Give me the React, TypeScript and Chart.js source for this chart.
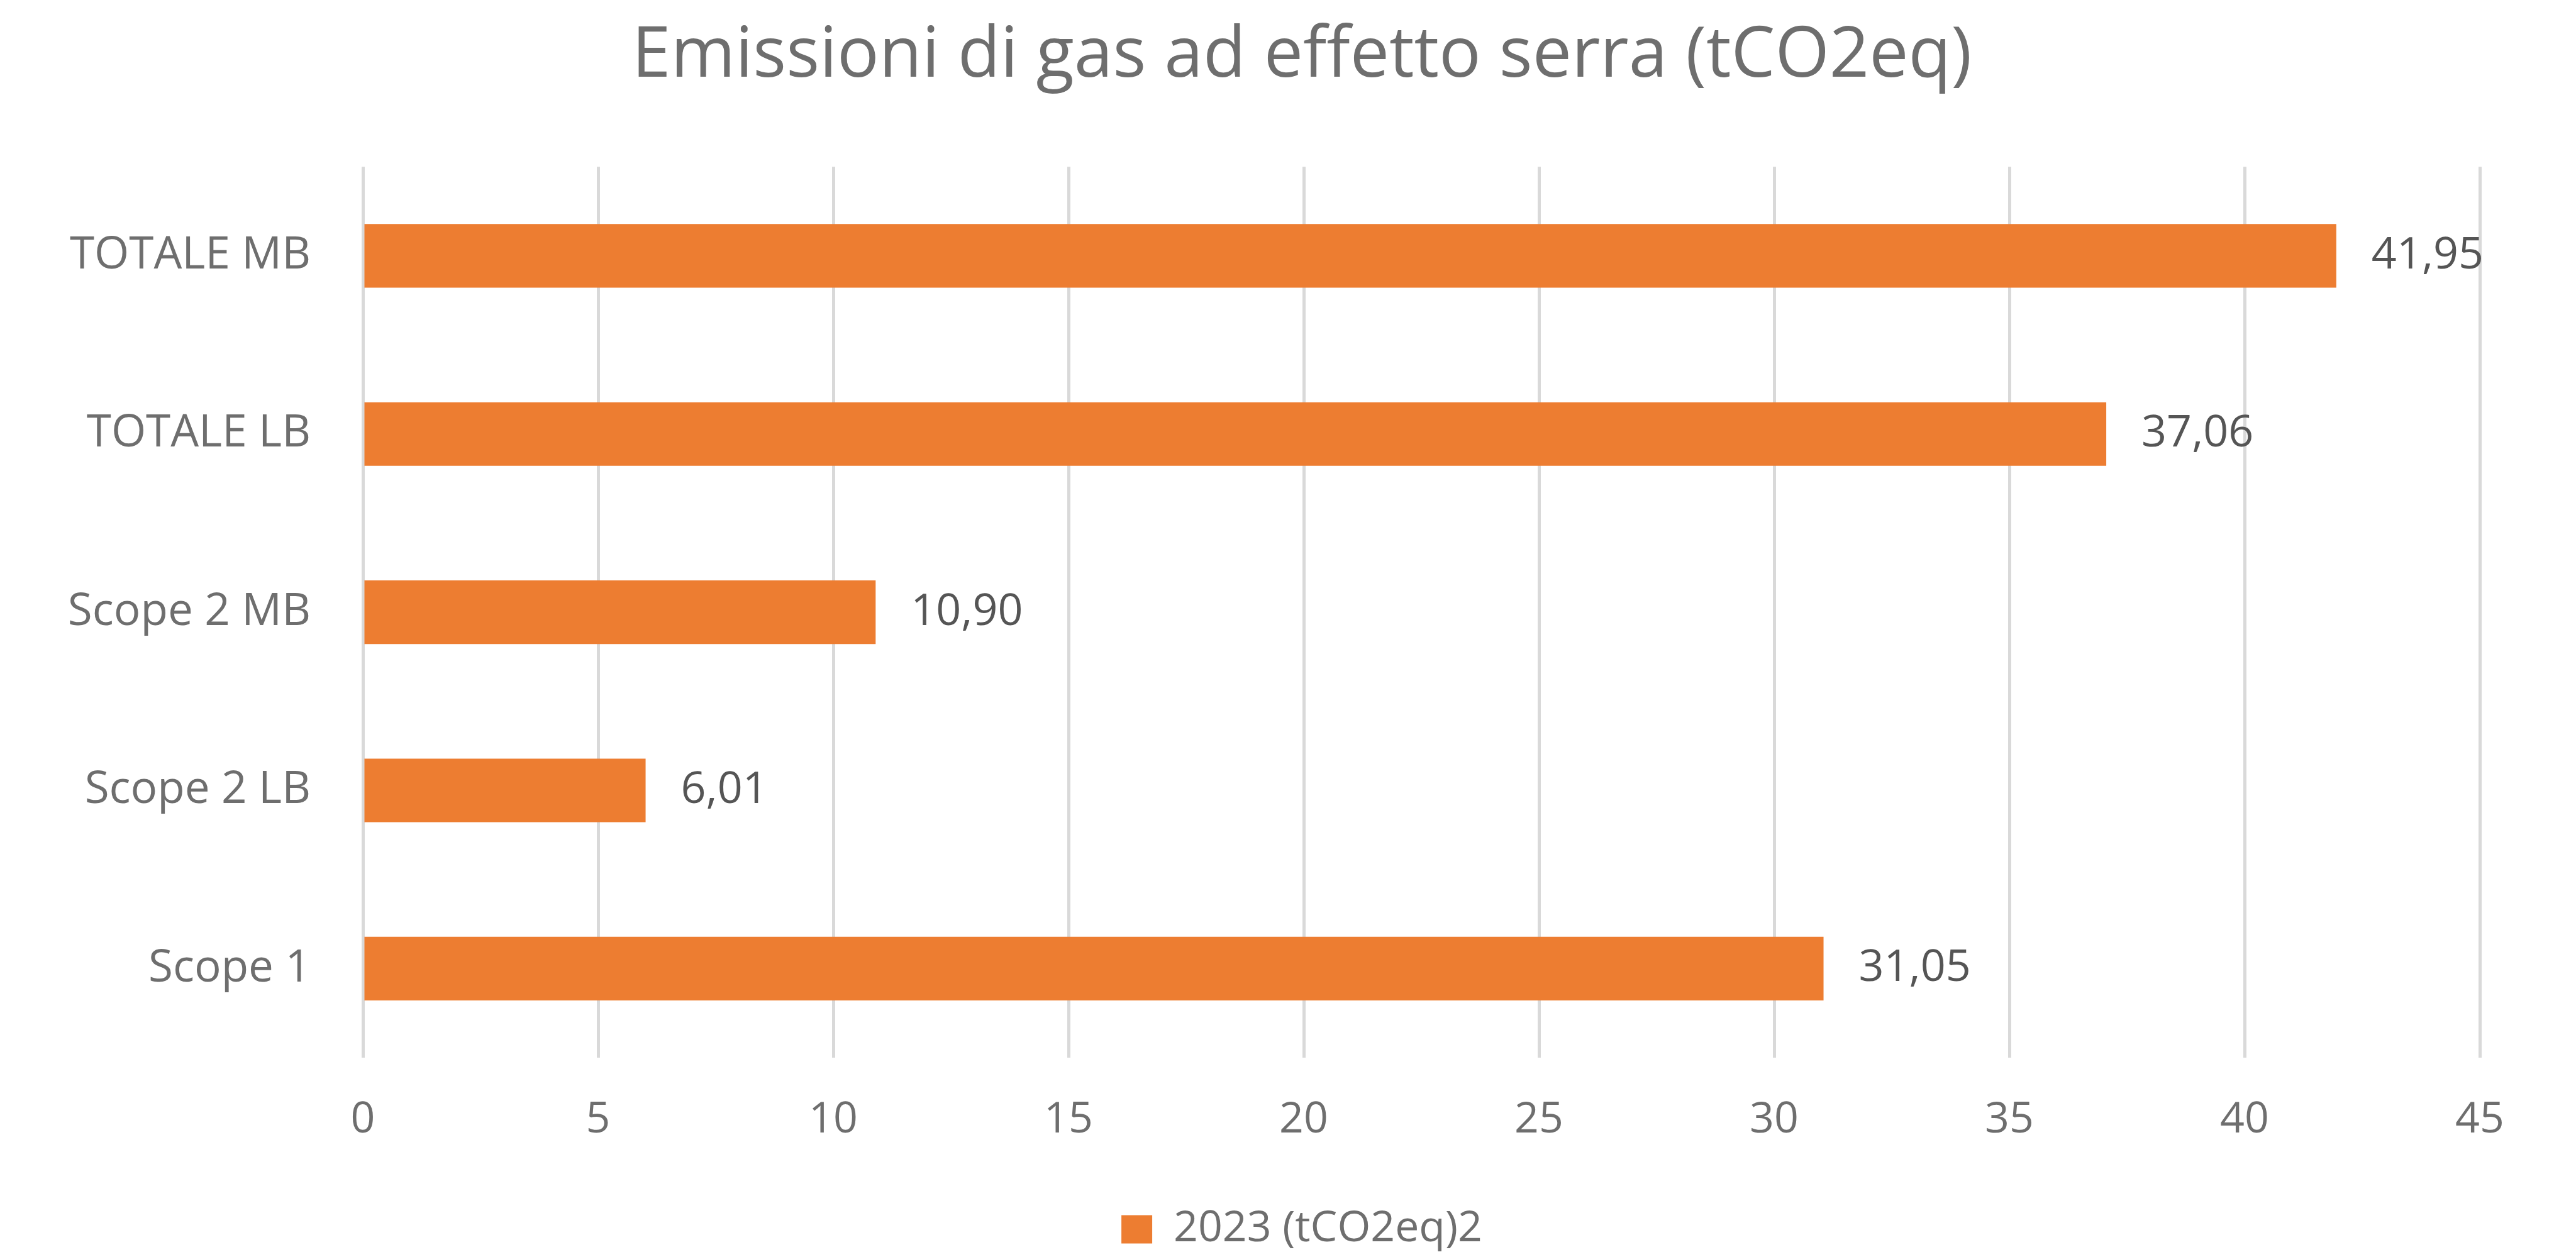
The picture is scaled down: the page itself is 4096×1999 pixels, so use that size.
import React, { useEffect, useRef } from "react";
import { Chart, registerables } from "chart.js";

Chart.register(...registerables);

const titleText = "Emissioni di gas ad effetto serra (tCO2eq)";
const categories = ["TOTALE MB", "TOTALE LB", "Scope 2 MB", "Scope 2 LB", "Scope 1"];
const values2023 = [41.95, 37.06, 10.9, 6.01, 31.05];
const seriesLabel = "2023 (tCO2eq)2";
const xMin = 0;
const xMax = 45;
const xStep = 5;

const FONT = "'Open Sans', Lato, sans-serif";
const W = 4096;
const H = 1999;
const TEXT_GREY = "#6e6e6e";

const valueLabels = {
  id: "valueLabels",
  afterDatasetsDraw(chart: any) {
    const ctx = chart.ctx;
    const meta = chart.getDatasetMeta(0);
    const data = chart.data.datasets[0].data as number[];
    ctx.save();
    ctx.font = `70px ${FONT}`;
    ctx.fillStyle = "#555555";
    ctx.textAlign = "left";
    ctx.textBaseline = "middle";
    meta.data.forEach((bar: any, i: number) => {
      const txt = data[i].toFixed(2).replace(".", ",");
      ctx.fillText(txt, bar.x + 56, bar.y);
    });
    ctx.restore();
  },
};

export default function App() {
  const ref = useRef<HTMLCanvasElement | null>(null);

  useEffect(() => {
    let chart: Chart | null = null;
    let cancelled = false;
    const make = () => {
      if (cancelled || !ref.current) return;
      chart = new Chart(ref.current, {
        type: "bar",
        data: {
          labels: categories,
          datasets: [
            {
              label: seriesLabel,
              data: values2023,
              backgroundColor: "#ED7D31",
              borderWidth: 0,
              barPercentage: 0.357,
              categoryPercentage: 1,
            },
          ],
        },
        options: {
          indexAxis: "y",
          animation: false,
          responsive: false,
          devicePixelRatio: 1,
          layout: { padding: { left: 44, right: 0, top: 0, bottom: 0 } },
          plugins: {
            title: {
              display: true,
              text: titleText,
              color: TEXT_GREY,
              font: { family: FONT, size: 111, weight: "normal", lineHeight: 1.2 },
              padding: { top: 24, bottom: 108 },
            },
            legend: {
              position: "bottom",
              labels: {
                boxWidth: 49,
                boxHeight: 45,
                color: TEXT_GREY,
                font: { family: FONT, size: 68 },
                padding: 10,
              },
            },
            tooltip: { enabled: false },
          },
          scales: {
            x: {
              type: "linear",
              min: xMin,
              max: xMax,
              ticks: {
                stepSize: xStep,
                color: TEXT_GREY,
                font: { family: FONT, size: 68 },
                padding: 59,
              },
              grid: { color: "#d9d9d9", lineWidth: 5, drawTicks: false },
              border: { display: false },
              afterFit(s: any) {
                s.height = 229;
              },
            },
            y: {
              type: "category",
              ticks: {
                color: TEXT_GREY,
                font: { family: FONT, size: 71 },
                padding: 83,
              },
              grid: { display: false, drawTicks: false },
              border: { display: false },
              afterFit(s: any) {
                s.width = 533;
              },
            },
            y2: {
              type: "linear",
              position: "right",
              display: true,
              ticks: { display: false },
              grid: { display: false, drawTicks: false },
              border: { display: false },
              afterFit(s: any) {
                s.width = 153;
              },
            },
          },
        },
        plugins: [valueLabels],
      });
    };
    const fontsApi = (document as any).fonts;
    if (fontsApi && fontsApi.load) {
      Promise.all([
        fontsApi.load(`68px 'Open Sans'`),
        fontsApi.load(`111px 'Open Sans'`),
      ])
        .catch(() => null)
        .then(make);
    } else {
      make();
    }
    return () => {
      cancelled = true;
      if (chart) chart.destroy();
    };
  }, []);

  return (
    <div style={{ position: "fixed", left: 0, top: 0, width: W, height: H, background: "#ffffff" }}>
      <canvas ref={ref} width={W} height={H} style={{ width: W, height: H, display: "block" }} />
    </div>
  );
}
